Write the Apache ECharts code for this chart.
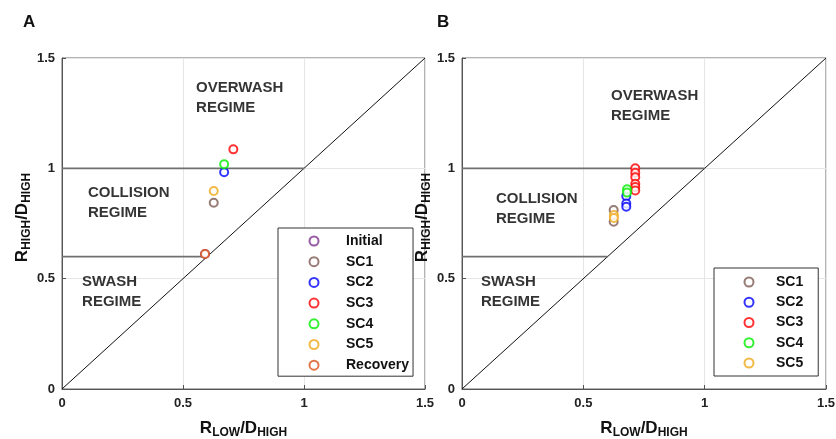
<!DOCTYPE html>
<html><head><meta charset="utf-8">
<script src="https://cdn.jsdelivr.net/npm/echarts@6/dist/echarts.min.js"></script>
<style>html,body{margin:0;padding:0;background:#fff;overflow:hidden}#c{width:836px;height:439px}</style>
</head><body><div id="c"></div>
<script>
// ---- data ----
const seriesNamesA = ['Initial','SC1','SC2','SC3','SC4','SC5','Recovery'];
const seriesNamesB = ['SC1','SC2','SC3','SC4','SC5'];
const colors = {Initial:'#7e2f8e',SC1:'#7d5a52',SC2:'#0000ff',SC3:'#ff0000',SC4:'#00ee00',SC5:'#f0a818',Recovery:'#d95319'};
// panel A points [R_LOW/D_HIGH, R_HIGH/D_HIGH]
const A_Initial = [[0.591,0.612]];
const A_SC1 = [[0.627,0.844]];
const A_SC2 = [[0.670,0.982]];
const A_SC3 = [[0.708,1.086]];
const A_SC4 = [[0.670,1.018]];
const A_SC5 = [[0.627,0.897]];
const A_Recovery = [[0.591,0.612]];
// panel B points
const B_SC1 = [[0.625,0.811],[0.625,0.758]];
const B_SC2 = [[0.677,0.874],[0.677,0.841],[0.677,0.826]];
const B_SC3 = [[0.714,1.0],[0.714,0.98],[0.714,0.96],[0.714,0.93],[0.714,0.915],[0.714,0.90]];
const B_SC4 = [[0.680,0.905],[0.680,0.89]];
const B_SC5 = [[0.626,0.788],[0.626,0.775]];
const ticks = [0,0.5,1,1.5];
const tickLabels = ['0','0.5','1','1.5'];
const diagonal = [[0,0],[1.5,1.5]];
const line1 = [[0,1],[1,1]];
const line06 = [[0,0.6],[0.6,0.6]];
const regionTextsA = [[0.554,1.320,'OVERWASH\nREGIME'],[0.107,0.843,'COLLISION\nREGIME'],[0.083,0.44,'SWASH\nREGIME']];
const regionTextsB = [[0.614,1.282,'OVERWASH\nREGIME'],[0.140,0.816,'COLLISION\nREGIME'],[0.078,0.442,'SWASH\nREGIME']];

const pointsA = {Initial:A_Initial,SC1:A_SC1,SC2:A_SC2,SC3:A_SC3,SC4:A_SC4,SC5:A_SC5,Recovery:A_Recovery};
const pointsB = {SC1:B_SC1,SC2:B_SC2,SC3:B_SC3,SC4:B_SC4,SC5:B_SC5};

const FONT = 'Liberation Sans, Arial, sans-serif';
const rich = {
  m:{fontSize:17,fontWeight:'bold',fontFamily:FONT,color:'#111'},
  s:{fontSize:12,fontWeight:'bold',fontFamily:FONT,color:'#111',padding:[10,0,0,0]}
};
function xAxis(i){return {gridIndex:i,type:'value',min:0,max:1.5,interval:0.5,
  name:'{m|R}{s|LOW}{m|/D}{s|HIGH}',nameLocation:'middle',nameGap:28,nameTextStyle:{rich},
  axisLine:{lineStyle:{color:'#555'}},axisTick:{inside:true,length:4,lineStyle:{color:'#555'}},
  axisLabel:{formatter:v=>tickLabels[ticks.indexOf(v)],fontSize:13,fontWeight:'bold',color:'#222',fontFamily:FONT,margin:8},
  splitLine:{lineStyle:{color:'#e6e6e6'}}};}
function yAxis(i){return {gridIndex:i,type:'value',min:0,max:1.5,interval:0.5,
  name:'{m|R}{s|HIGH}{m|/D}{s|HIGH}',nameLocation:'middle',nameGap:28,nameTextStyle:{rich,padding:[0,0,0,12]},
  axisLine:{lineStyle:{color:'#555'}},axisTick:{inside:true,length:4,lineStyle:{color:'#555'}},
  axisLabel:{formatter:v=>tickLabels[ticks.indexOf(v)],fontSize:13,fontWeight:'bold',color:'#222',fontFamily:FONT,margin:7},
  splitLine:{lineStyle:{color:'#e6e6e6'}}};}

const series=[];
function addPanel(i,pts,names,texts){
  series.push({type:'line',xAxisIndex:i,yAxisIndex:i,data:diagonal,symbol:'none',lineStyle:{color:'#111',width:1},silent:true,z:1});
  series.push({type:'line',xAxisIndex:i,yAxisIndex:i,data:line1,symbol:'none',lineStyle:{color:'#707070',width:1.6},silent:true,z:1});
  series.push({type:'line',xAxisIndex:i,yAxisIndex:i,data:line06,symbol:'none',lineStyle:{color:'#707070',width:1.6},silent:true,z:1});
  series.push({type:'scatter',xAxisIndex:i,yAxisIndex:i,symbolSize:0,silent:true,
    data:texts.map(t=>({value:[t[0],t[1]],label:{formatter:t[2]}})),
    label:{show:true,position:'inside',align:'left',verticalAlign:'middle',fontSize:15,fontWeight:'bold',fontFamily:FONT,color:'#000',lineHeight:20}});
  names.forEach(n=>{
    series.push({type:'scatter',name:n,xAxisIndex:i,yAxisIndex:i,data:pts[n],symbol:'emptyCircle',symbolSize:8,
      itemStyle:{color:colors[n],borderColor:colors[n],borderWidth:1.8},z:5});
  });
}
addPanel(0,pointsA,seriesNamesA,regionTextsA);
addPanel(1,pointsB,seriesNamesB,regionTextsB);

function legendText(padLeft){
  return {fontSize:14,fontWeight:'bold',fontFamily:FONT,color:'#111',lineHeight:14,
    rich:{t:{fontSize:14,fontWeight:'bold',fontFamily:FONT,color:'#111',lineHeight:14,padding:[0,0,0,padLeft]}}};
}
const legendBase={orient:'vertical',itemWidth:9,itemHeight:9,borderColor:'#333',borderWidth:1,backgroundColor:'#fff',
  icon:'emptyCircle',itemStyle:{borderWidth:2},formatter:n=>'{t|'+n+'}'};
const chart=echarts.init(document.getElementById('c'),null,{renderer:'canvas',width:836,height:439});
chart.setOption({
  animation:false,
  grid:[{left:62,top:58,width:363,height:331,outerBoundsMode:'none',containLabel:false,show:true,borderColor:'#666',borderWidth:1},
        {left:462,top:58,width:364,height:331,outerBoundsMode:'none',containLabel:false,show:true,borderColor:'#666',borderWidth:1}],
  xAxis:[xAxis(0),xAxis(1)],
  yAxis:[yAxis(0),yAxis(1)],
  title:[{text:'A',left:18,top:9,textStyle:{fontSize:17,fontWeight:'bold',fontFamily:FONT,color:'#111'}},
         {text:'B',left:432,top:9,textStyle:{fontSize:17,fontWeight:'bold',fontFamily:FONT,color:'#111'}}],
  legend:[Object.assign({},legendBase,{data:seriesNamesA.map(n=>({name:n})),left:278,top:228,itemGap:6.7,padding:[6,4,4,30.5],textStyle:legendText(22.5)}),
          Object.assign({},legendBase,{data:seriesNamesB.map(n=>({name:n})),left:714,top:268,itemGap:6.25,padding:[7,15,6,29.5],textStyle:legendText(17.5)})],
  series
});
</script></body></html>
